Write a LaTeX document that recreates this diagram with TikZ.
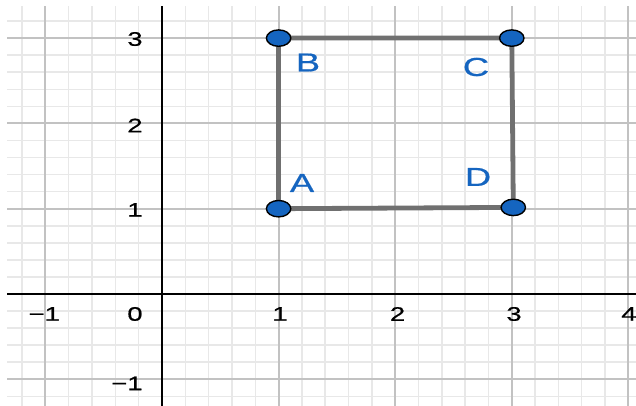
\documentclass[tikz,border=0pt]{standalone}
\usepackage{fontspec}
\newfontfamily\ggfont[FakeStretch=1.4,FakeBold=0.6]{Liberation Sans}
\definecolor{minorgrid}{HTML}{E8E8E8}
\definecolor{majorgrid}{HTML}{C2C2C2}
\definecolor{seggray}{HTML}{707070}
\definecolor{ptblue}{HTML}{1565C0}
\tikzset{
  minorlines/.style={draw=minorgrid, line width=0.75pt},
  majorlines/.style={draw=majorgrid, line width=0.95pt},
  axisline/.style={draw=black, line width=1pt},
  seg/.style={draw=seggray, line width=2.4pt, line join=round},
  pt/.style={ellipse, draw=black, line width=0.7pt, fill=ptblue, minimum width=12.2pt, minimum height=8.2pt, inner sep=0pt},
  ptlabel/.style={inner sep=0pt, text=ptblue, font=\ggfont\fontsize{13pt}{15pt}\selectfont},
  ticklabel/.style={inner sep=0pt, text=black, font=\ggfont\fontsize{9.8pt}{11pt}\selectfont}
}
\usetikzlibrary{shapes.geometric}
\begin{document}
\begin{tikzpicture}[x=58.3pt,y=42.65pt]
\useasboundingbox (-1.3894,-1.3130) rectangle (4.0652,3.4467);
\fill[white] (-1.3894,-1.3130) rectangle (4.0652,3.4467);
\begin{scope}
  \clip (-1.329,-1.313) rectangle (4.0652,3.376);
  \draw[minorlines, step=0.2] (-1.6,-1.6) grid (4.4,3.6);
  \draw[majorlines, step=1] (-1.6,-1.6) grid (4.4,3.6);
  \draw[axisline] (-1.6,0) -- (4.4,0);
  \draw[axisline] (0,-1.6) -- (0,3.6);
  % tick labels
  \node[ticklabel] (xm1) at (-1.01,-0.2345) {−1};
  \node[ticklabel] (x1) at (1.012,-0.2345) {1};
  \node[ticklabel] (x2) at (2.02,-0.2345) {2};
  \node[ticklabel] (x3) at (3.019,-0.2345) {3};
  \node[ticklabel] (x4) at (4.005,-0.2345) {4};
  \node[ticklabel, anchor=east] (o) at (-0.163,-0.2345) {0};
  \node[ticklabel, anchor=east] (y3) at (-0.163,2.989) {3};
  \node[ticklabel, anchor=east] (y2) at (-0.163,1.975) {2};
  \node[ticklabel, anchor=east] (y1) at (-0.163,0.985) {1};
  \node[ticklabel, anchor=east] (ym1) at (-0.163,-1.049) {−1};
\end{scope}
% polygon
\coordinate (A) at (1,1);
\coordinate (B) at (1,3);
\coordinate (C) at (3,3);
\coordinate (D) at (3.013,1.015);
\draw[seg] (A) -- (B) -- (C) -- (D) -- cycle;
\node[pt] (pA) at (A) {};
\node[pt] (pB) at (B) {};
\node[pt] (pC) at (C) {};
\node[pt] (pD) at (D) {};
% labels
\node[ptlabel] (lA) at (1.201,1.301) {A};
\node[ptlabel] (lB) at (1.252,2.714) {B};
\node[ptlabel] (lC) at (2.693,2.661) {C};
\node[ptlabel] (lD) at (2.710,1.372) {D};
\end{tikzpicture}
\end{document}
